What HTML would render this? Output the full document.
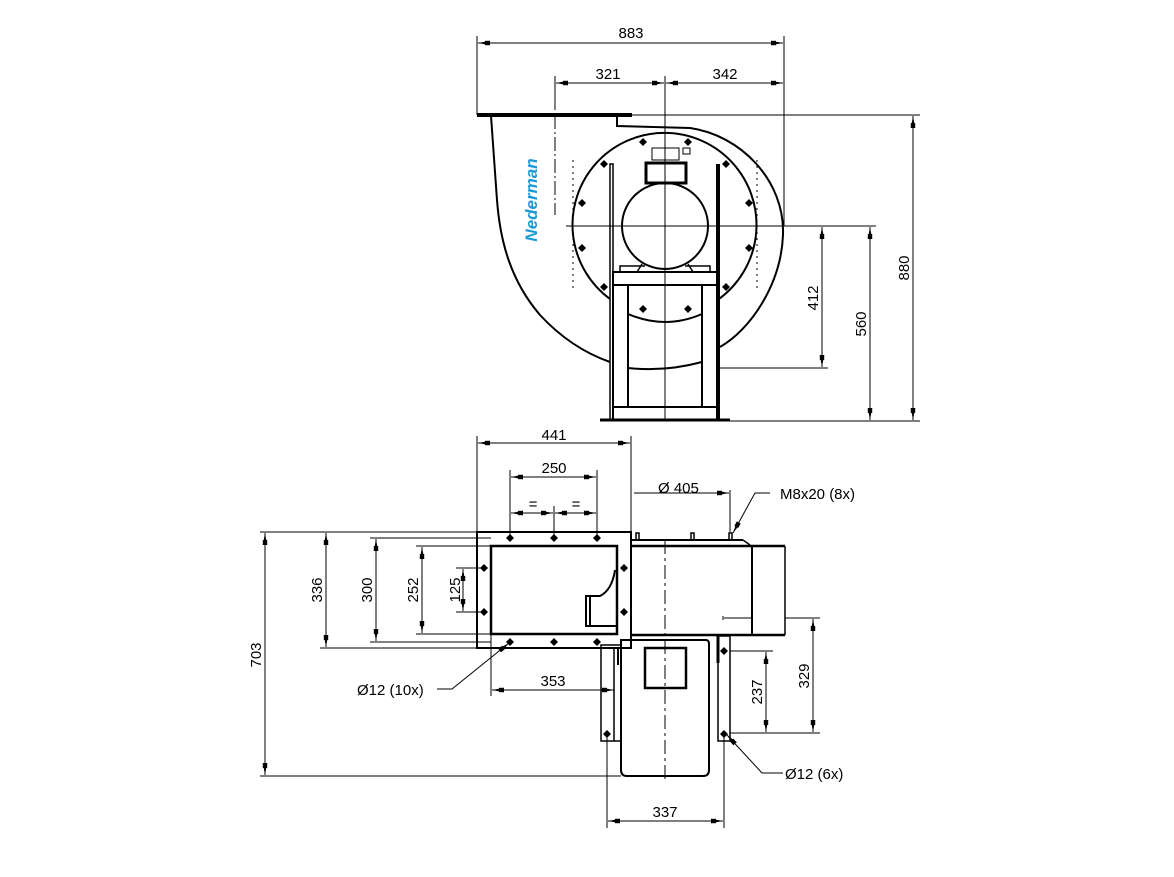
<!DOCTYPE html>
<html><head><meta charset="utf-8"><style>
html,body{margin:0;padding:0;background:#fff}
svg{display:block}
text{font-family:"Liberation Sans",sans-serif;font-size:15px;fill:#000}
</style></head><body>
<svg width="1174" height="877" viewBox="0 0 1174 877" xmlns="http://www.w3.org/2000/svg">
<defs>
<marker id="a" viewBox="0 0 12 6" refX="12" refY="3" markerWidth="12" markerHeight="6" markerUnits="userSpaceOnUse" orient="auto-start-reverse">
<path d="M0,0.8 L12,3 L0,5.2 Z" fill="#000"/><rect x="0" y="0.8" width="5" height="4.4" fill="#000"/></marker>
<g id="h"><path d="M0,-4 L4,0 L0,4 L-4,0 Z" fill="#000"/></g>
</defs>
<g stroke="#000" fill="none" stroke-width="1">
<!-- ===== TOP VIEW ===== -->
<line x1="477" y1="36" x2="477" y2="115"/>
<line x1="784" y1="36" x2="784" y2="226"/>
<line x1="478" y1="43" x2="783" y2="43" marker-start="url(#a)" marker-end="url(#a)"/>
<line x1="555" y1="76" x2="555" y2="110"/>
<line x1="665" y1="76" x2="665" y2="420"/>
<line x1="556" y1="83" x2="664" y2="83" marker-start="url(#a)" marker-end="url(#a)"/>
<line x1="666" y1="83" x2="783" y2="83" marker-start="url(#a)" marker-end="url(#a)"/>
<line x1="555" y1="115" x2="555" y2="215" stroke-dasharray="14,3,2,3"/>
<line x1="632" y1="115" x2="920" y2="115"/>
<line x1="566" y1="226" x2="876" y2="226"/>
<line x1="720" y1="368" x2="828" y2="368"/>
<line x1="730" y1="421" x2="920" y2="421"/>
<line x1="913" y1="116" x2="913" y2="420" marker-start="url(#a)" marker-end="url(#a)"/>
<line x1="870" y1="227" x2="870" y2="420" marker-start="url(#a)" marker-end="url(#a)"/>
<line x1="822" y1="227" x2="822" y2="367" marker-start="url(#a)" marker-end="url(#a)"/>
<line x1="477" y1="115" x2="632" y2="115" stroke-width="4"/>
<path d="M491,116 L497,200 C500,240 510,280 540,315 C565,342 590,355 610,362" stroke-width="2"/>
<path d="M617,115 L617,126 L690,128 C740,135 785,180 783,235 C781,285 750,330 720,347" stroke-width="2"/>
<path d="M610,299 A92,92 0 1 1 719,299" stroke-width="2"/>
<path d="M628,314 Q665,330 702,314" stroke-width="2"/>
<path d="M628,368 Q665,372 702,362" stroke-width="2"/>
<rect x="610" y="164" width="3" height="256" stroke-width="1.5"/>
<line x1="718" y1="164" x2="718" y2="420" stroke-width="4"/>
<circle cx="665" cy="226" r="43" stroke-width="2"/>
<rect x="646" y="163" width="40" height="20" stroke-width="3"/>
<rect x="652" y="148" width="27" height="12"/>
<rect x="683" y="148" width="7" height="6"/>
<path d="M620,272 L620,266 L645,266 M710,272 L710,266 L685,266 M637,272 L642,264 M693,272 L688,264" stroke-width="1.5"/>
<rect x="613" y="272" width="105" height="13" stroke-width="2"/>
<line x1="628" y1="285" x2="628" y2="407" stroke-width="2"/>
<line x1="702" y1="285" x2="702" y2="407" stroke-width="2"/>
<line x1="613" y1="407" x2="718" y2="407" stroke-width="2"/>
<line x1="600" y1="420" x2="730" y2="420" stroke-width="3"/>
<line x1="613" y1="285" x2="613" y2="420" stroke-width="2"/>
<g stroke-dasharray="2,4">
<line x1="573" y1="160" x2="573" y2="290"/><line x1="757" y1="160" x2="757" y2="290"/>
</g>
</g>
<g>
<use href="#h" x="643" y="142"/><use href="#h" x="688" y="142"/>
<use href="#h" x="604" y="164"/><use href="#h" x="726" y="164"/>
<use href="#h" x="582" y="203"/><use href="#h" x="749" y="203"/>
<use href="#h" x="582" y="248"/><use href="#h" x="749" y="248"/>
<use href="#h" x="604" y="287"/><use href="#h" x="726" y="287"/>
<use href="#h" x="643" y="309"/><use href="#h" x="688" y="309"/>
</g>
<text x="631" y="38" text-anchor="middle">883</text>
<text x="608" y="79" text-anchor="middle">321</text>
<text x="725" y="79" text-anchor="middle">342</text>
<text transform="translate(909,268) rotate(-90)" text-anchor="middle">880</text>
<text transform="translate(866,324) rotate(-90)" text-anchor="middle">560</text>
<text transform="translate(818,298) rotate(-90)" text-anchor="middle">412</text>
<text transform="translate(537,200) rotate(-90)" text-anchor="middle" style="font-weight:bold;font-style:italic;font-size:17px;fill:#1a9ad6">Nederman</text>

<!-- ===== BOTTOM VIEW ===== -->
<g stroke="#000" fill="none" stroke-width="1">
<line x1="477" y1="436" x2="477" y2="532"/><line x1="631" y1="436" x2="631" y2="532"/>
<line x1="478" y1="443" x2="630" y2="443" marker-start="url(#a)" marker-end="url(#a)"/>
<line x1="510" y1="470" x2="510" y2="538"/><line x1="597" y1="470" x2="597" y2="538"/><line x1="554" y1="506" x2="554" y2="538"/>
<line x1="511" y1="477" x2="596" y2="477" marker-start="url(#a)" marker-end="url(#a)"/>
<line x1="511" y1="513" x2="553" y2="513" marker-start="url(#a)" marker-end="url(#a)"/>
<line x1="555" y1="513" x2="596" y2="513" marker-start="url(#a)" marker-end="url(#a)"/>
<line x1="634" y1="493" x2="729" y2="493" marker-end="url(#a)"/>
<line x1="730" y1="490" x2="730" y2="532"/>
<path d="M770,493 L755,493 L733,533" marker-end="url(#a)"/>
<line x1="260" y1="532" x2="477" y2="532"/>
<line x1="260" y1="776" x2="621" y2="776"/>
<line x1="265" y1="533" x2="265" y2="775" marker-start="url(#a)" marker-end="url(#a)"/>
<line x1="320" y1="648" x2="477" y2="648"/>
<line x1="326" y1="533" x2="326" y2="647" marker-start="url(#a)" marker-end="url(#a)"/>
<line x1="370" y1="538" x2="491" y2="538"/><line x1="370" y1="642" x2="491" y2="642"/>
<line x1="376" y1="539" x2="376" y2="641" marker-start="url(#a)" marker-end="url(#a)"/>
<line x1="416" y1="546" x2="491" y2="546"/><line x1="416" y1="634" x2="491" y2="634"/>
<line x1="422" y1="547" x2="422" y2="633" marker-start="url(#a)" marker-end="url(#a)"/>
<line x1="456" y1="568" x2="484" y2="568"/><line x1="456" y1="612" x2="484" y2="612"/>
<line x1="463" y1="569" x2="463" y2="611" marker-start="url(#a)" marker-end="url(#a)"/>
<path d="M437,689 L452,689 L509,643" marker-end="url(#a)"/>
<line x1="491" y1="634" x2="491" y2="696"/>
<line x1="492" y1="690" x2="614" y2="690" marker-start="url(#a)" marker-end="url(#a)"/>
<line x1="607" y1="734" x2="607" y2="828"/><line x1="724" y1="734" x2="724" y2="828"/>
<line x1="608" y1="821" x2="723" y2="821" marker-start="url(#a)" marker-end="url(#a)"/>
<line x1="730" y1="651" x2="773" y2="651"/>
<line x1="785" y1="618" x2="820" y2="618"/>
<line x1="730" y1="733" x2="820" y2="733"/>
<line x1="766" y1="652" x2="766" y2="732" marker-start="url(#a)" marker-end="url(#a)"/>
<line x1="813" y1="619" x2="813" y2="732" marker-start="url(#a)" marker-end="url(#a)"/>
<path d="M783,773 L762,773 L727,735" marker-end="url(#a)"/>
<rect x="477" y="532" width="154" height="116" stroke-width="2"/>
<rect x="491" y="546" width="126" height="88" stroke-width="2.5"/>
<path d="M615,570 Q612,590 600,596 L586,596 L586,626 L617,626 M590,596 L590,626" stroke-width="2"/>
<line x1="631" y1="540" x2="743" y2="540" stroke-width="2"/>
<path d="M743,540 L750,545" stroke-width="1.5"/>
<line x1="631" y1="546" x2="785" y2="546" stroke-width="2.5"/>
<line x1="631" y1="635" x2="785" y2="635" stroke-width="2.5"/>
<line x1="752" y1="546" x2="752" y2="635" stroke-width="2"/>
<line x1="785" y1="546" x2="785" y2="635" stroke-width="1.5"/>
<path d="M636,540 L636,533 L639,533 L639,540 M691,540 L691,533 L694,533 L694,540 M729,540 L729,533 L732,533 L732,540" stroke-width="1.5"/>
<path d="M724,618 L752,618 M723,616 L723,620"/>
<line x1="665" y1="540" x2="665" y2="780" stroke-dasharray="14,4,3,4"/>
<path d="M621,640 L706,640 Q709,640 709,644 L709,770 Q709,776 703,776 L627,776 Q621,776 621,770 Z" stroke-width="2"/>
<rect x="645" y="648" width="41" height="40" stroke-width="2.5"/>
<rect x="601" y="645" width="20" height="96" stroke-width="1.5"/>
<line x1="614" y1="648" x2="614" y2="741" stroke-width="1.5"/>
<rect x="718" y="636" width="12" height="105" stroke-width="1.5"/>
<line x1="718" y1="636" x2="718" y2="663" stroke-width="3"/>
<line x1="618" y1="648" x2="618" y2="665" stroke-width="2"/>
</g>
<g>
<use href="#h" x="510" y="538"/><use href="#h" x="554" y="538"/><use href="#h" x="597" y="538"/>
<use href="#h" x="510" y="642"/><use href="#h" x="554" y="642"/><use href="#h" x="597" y="642"/>
<use href="#h" x="484" y="568"/><use href="#h" x="484" y="612"/>
<use href="#h" x="624" y="568"/><use href="#h" x="624" y="612"/>
<use href="#h" x="607" y="734"/><use href="#h" x="724" y="734"/><use href="#h" x="724" y="651"/>
</g>
<text x="554" y="440" text-anchor="middle">441</text>
<text x="554" y="473" text-anchor="middle">250</text>
<text x="533" y="509" text-anchor="middle">=</text>
<text x="576" y="509" text-anchor="middle">=</text>
<text x="658" y="493">Ø  405</text>
<text x="780" y="499">M8x20 (8x)</text>
<text transform="translate(261,655) rotate(-90)" text-anchor="middle">703</text>
<text transform="translate(322,590) rotate(-90)" text-anchor="middle">336</text>
<text transform="translate(372,590) rotate(-90)" text-anchor="middle">300</text>
<text transform="translate(418,590) rotate(-90)" text-anchor="middle">252</text>
<text transform="translate(460,590) rotate(-90)" text-anchor="middle">125</text>
<text x="357" y="695">Ø12 (10x)</text>
<text x="553" y="686" text-anchor="middle">353</text>
<text x="665" y="817" text-anchor="middle">337</text>
<text transform="translate(762,692) rotate(-90)" text-anchor="middle">237</text>
<text transform="translate(809,676) rotate(-90)" text-anchor="middle">329</text>
<text x="785" y="779">Ø12 (6x)</text>
</svg>
</body></html>
